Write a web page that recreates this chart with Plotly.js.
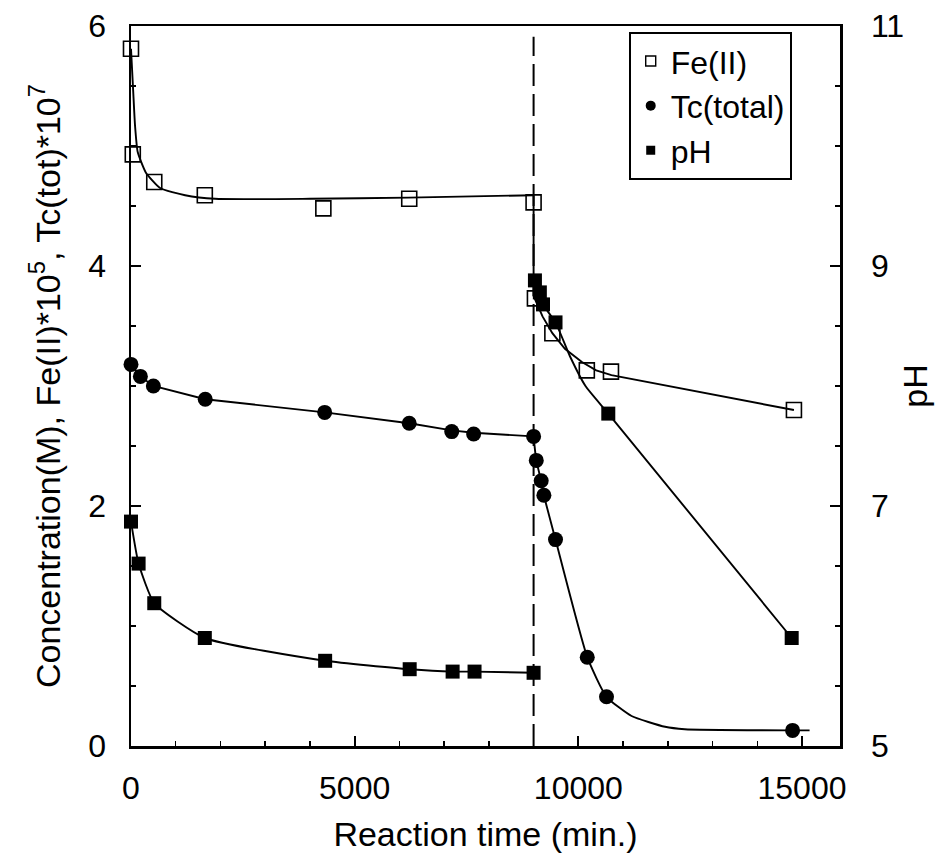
<!DOCTYPE html>
<html>
<head>
<meta charset="utf-8">
<script src="https://cdn.plot.ly/plotly-3.0.1.min.js"></script>
<style>html,body{margin:0;padding:0;background:#fff;}#chart{width:937px;height:865px;}</style>
</head>
<body>
<div id="chart"></div>
<script>
// ---- data ----
const feTime = [0, 40, 520, 1650, 4300, 6220, 9000, 9030, 9420, 10190, 10730, 14820];
const feConc = [5.81, 4.93, 4.70, 4.59, 4.48, 4.56, 4.53, 3.73, 3.44, 3.13, 3.12, 2.80];

const tcTime = [0, 210, 500, 1660, 4330, 6220, 7170, 7660, 9000, 9060, 9170, 9230, 9490, 10200, 10630, 14790];
const tcConc = [3.18, 3.08, 3.00, 2.89, 2.78, 2.69, 2.62, 2.60, 2.58, 2.38, 2.21, 2.09, 1.72, 0.74, 0.41, 0.13];

const phTime = [0, 170, 520, 1650, 4340, 6230, 7190, 7680, 9000, 9030, 9140, 9210, 9490, 10670, 14770];
const phVal  = [6.87, 6.52, 6.19, 5.90, 5.71, 5.64, 5.62, 5.62, 5.61, 8.88, 8.78, 8.68, 8.53, 7.77, 5.90];

// fitted curves as drawn in the reference
const feFitTimeA = [0, 50, 90, 150, 330, 650, 1210, 1880, 4000, 6200, 9000];
const feFitConcA = [5.81, 5.45, 5.17, 4.95, 4.78, 4.65, 4.59, 4.56, 4.56, 4.57, 4.59];
const feFitTimeB = [9000, 9000, 9200, 9420, 9700, 10080, 10400, 10740, 14820];
const feFitConcB = [4.59, 3.75, 3.58, 3.44, 3.31, 3.20, 3.13, 3.09, 2.80];

const tcFitTimeA = [0, 210, 500, 1660, 4330, 6220, 7170, 7660, 9000];
const tcFitConcA = [3.18, 3.08, 3.00, 2.89, 2.78, 2.69, 2.63, 2.61, 2.58];
const tcFitTimeB = [9000, 9060, 9170, 9230, 9490, 10200, 10630, 11190, 11940, 12380, 14790, 15170];
const tcFitConcB = [2.58, 2.38, 2.21, 2.09, 1.72, 0.74, 0.41, 0.25, 0.16, 0.14, 0.13, 0.13];

const phFitTimeA = [0, 170, 520, 1650, 4340, 6230, 7190, 7680, 9000];
const phFitValA  = [6.87, 6.52, 6.19, 5.90, 5.71, 5.64, 5.62, 5.62, 5.61];
const phFitTimeB = [9030, 9140, 9210, 9490, 9810, 10160, 10670, 14770];
const phFitValB  = [8.88, 8.78, 8.68, 8.53, 8.25, 8.00, 7.77, 5.90];

const cutTime = [9000];
const legendNames = ['Fe(II)', 'Tc(total)', 'pH'];
const xTitle = 'Reaction time (min.)';
const yTitle = 'Concentration(M), Fe(II)*10<sup>5</sup>, Tc(tot)*10<sup>7</sup>';
const y2Title = 'pH';

const FONT = 'Liberation Sans, Arial, Helvetica, sans-serif';
const LW = 1.9;

const fitLine = (x, y, yaxis, shape) => ({
  x: x, y: y, yaxis: yaxis, type: 'scatter', mode: 'lines',
  line: {color: '#000', width: LW, shape: shape, smoothing: 0.5},
  showlegend: false, hoverinfo: 'skip', cliponaxis: false
});

const traces = [
  fitLine(feFitTimeA, feFitConcA, 'y', 'spline'),
  fitLine(feFitTimeB, feFitConcB, 'y', 'linear'),
  fitLine(tcFitTimeA, tcFitConcA, 'y', 'linear'),
  fitLine(tcFitTimeB, tcFitConcB, 'y', 'spline'),
  fitLine(phFitTimeA, phFitValA, 'y2', 'spline'),
  fitLine(phFitTimeB, phFitValB, 'y2', 'spline'),
  {x: feTime, y: feConc, type: 'scatter', mode: 'markers', showlegend: false, cliponaxis: false,
   marker: {symbol: 'square-open', size: 15, color: '#000', line: {width: 1.6, color: '#000'}}},
  {x: tcTime, y: tcConc, type: 'scatter', mode: 'markers', showlegend: false, cliponaxis: false,
   marker: {symbol: 'circle', size: 15, color: '#000'}},
  {x: phTime, y: phVal, yaxis: 'y2', type: 'scatter', mode: 'markers', showlegend: false, cliponaxis: false,
   marker: {symbol: 'square', size: 14, color: '#000'}},
  // legend entries
  {x: [null], y: [null], type: 'scatter', mode: 'markers', name: legendNames[0],
   marker: {symbol: 'square-open', size: 10, color: '#000', line: {width: 1.4, color: '#000'}}},
  {x: [null], y: [null], type: 'scatter', mode: 'markers', name: legendNames[1],
   marker: {symbol: 'circle', size: 10, color: '#000'}},
  {x: [null], y: [null], type: 'scatter', mode: 'markers', name: legendNames[2],
   marker: {symbol: 'square', size: 9, color: '#000'}}
];

const layout = {
  width: 937, height: 865,
  margin: {l: 131, r: 97, t: 26, b: 119},
  paper_bgcolor: '#fff', plot_bgcolor: '#fff',
  font: {family: FONT, color: '#000', size: 32},
  showlegend: true,
  legend: {
    x: 0.702, y: 0.992, xanchor: 'left', yanchor: 'top',
    bgcolor: '#fff', bordercolor: '#000', borderwidth: 2,
    font: {family: FONT, size: 32, color: '#000'},
    itemclick: false
  },
  xaxis: {
    range: [0, 15850], showgrid: false, zeroline: false,
    showline: true, linecolor: '#000', linewidth: 2.5, mirror: true,
    ticks: 'inside', ticklen: 10, tickwidth: 2, tickcolor: '#000',
    tick0: 0, dtick: 5000, tickformat: 'd',
    minor: {ticks: 'inside', ticklen: 5, tickwidth: 1.5, tickcolor: '#000', dtick: 1000, showgrid: false},
    tickfont: {family: FONT, size: 32},
    ticklabelstandoff: 12,
    title: {text: xTitle, font: {family: FONT, size: 34}, standoff: 18}
  },
  yaxis: {
    range: [0, 6], showgrid: false, zeroline: false,
    showline: true, linecolor: '#000', linewidth: 2.5,
    ticks: 'inside', ticklen: 10, tickwidth: 2, tickcolor: '#000',
    tick0: 0, dtick: 2,
    minor: {ticks: 'inside', ticklen: 5, tickwidth: 1.5, tickcolor: '#000', dtick: 0.5, showgrid: false},
    tickfont: {family: FONT, size: 32},
    ticklabelstandoff: 16,
    title: {text: yTitle, font: {family: FONT, size: 34}, standoff: 18}
  },
  yaxis2: {
    overlaying: 'y', side: 'right',
    range: [5, 11], showgrid: false, zeroline: false,
    showline: true, linecolor: '#000', linewidth: 2.5,
    ticks: 'inside', ticklen: 10, tickwidth: 2, tickcolor: '#000',
    tick0: 5, dtick: 2,
    minor: {ticks: 'inside', ticklen: 5, tickwidth: 1.5, tickcolor: '#000', dtick: 0.5, showgrid: false},
    tickfont: {family: FONT, size: 32},
    ticklabelstandoff: 22,
    title: {text: y2Title, font: {family: FONT, size: 34}, standoff: 0}
  },
  shapes: [{
    type: 'line', xref: 'x', yref: 'paper',
    x0: cutTime[0], x1: cutTime[0], y0: 0, y1: 0.985,
    line: {color: '#000', width: 2, dash: '22px,8px'}
  }]
};

Plotly.newPlot('chart', traces, layout, {displayModeBar: false, staticPlot: true});
</script>
</body>
</html>
